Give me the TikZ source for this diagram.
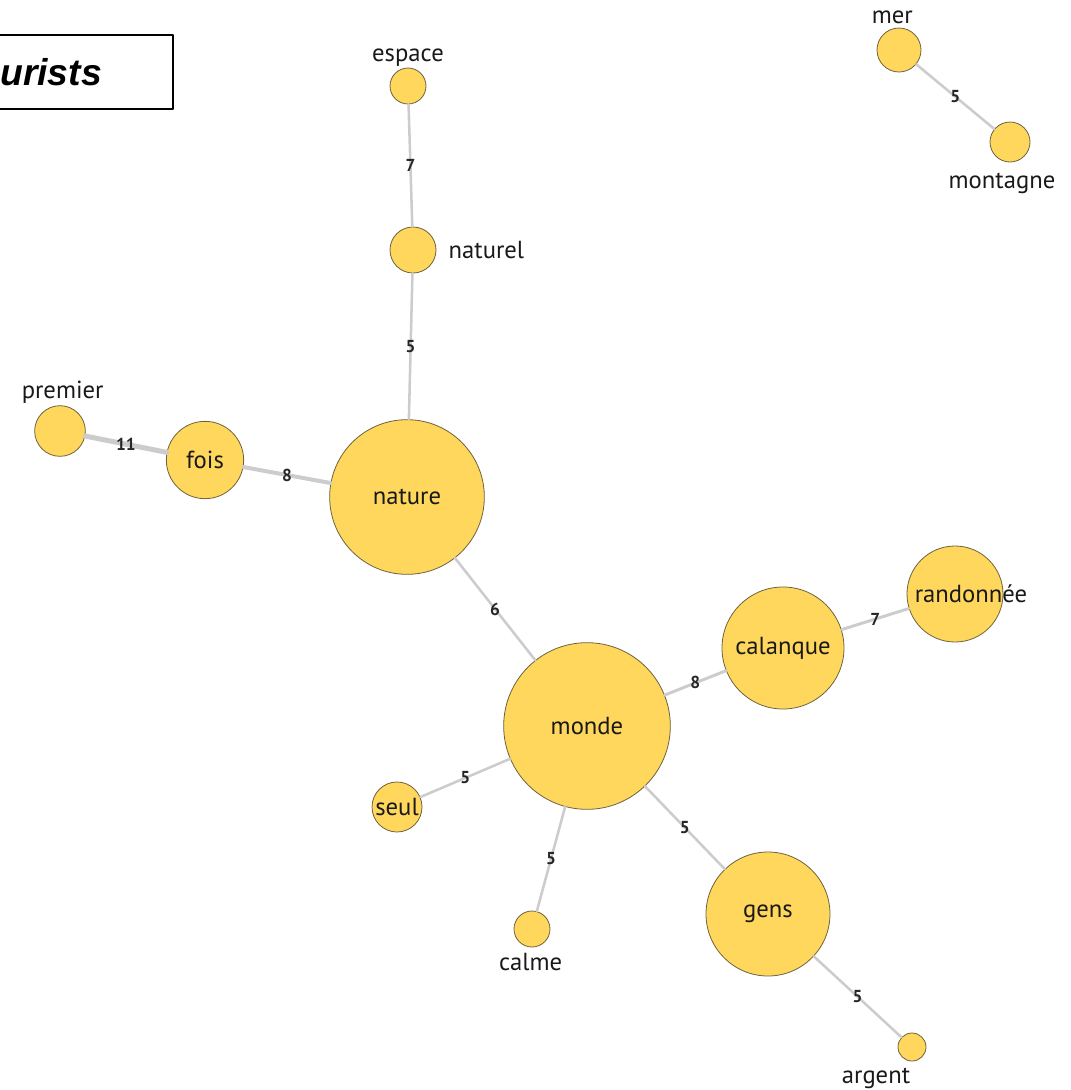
\documentclass[tikz,border=0pt]{standalone}
\usepackage{fontspec}
\setmainfont{PT Sans}
\newfontfamily\titlefont{Liberation Sans}
\definecolor{wordfill}{RGB}{255,215,92}
\definecolor{wordline}{RGB}{110,98,62}
\definecolor{linkgray}{RGB}{204,204,204}
\begin{document}
\begin{tikzpicture}[x=0.75pt,y=-0.75pt, line join=round,line cap=round]
	\tikzset{word/.style={circle,draw=wordline,fill=wordfill,line width=0.6pt,inner sep=0pt},
		every label/.style={font=\fontsize{18.5}{21}\selectfont,text=black!90,inner sep=1pt},
		link/.style={draw=linkgray,line width=1.9pt},
		weight/.style={font=\fontsize{13}{14}\selectfont\bfseries,text=black!85,inner sep=0pt}}
	\def \w{1071}
	\def \h{1090}
	\useasboundingbox (0,0) rectangle (\w,\h);
	\clip (0,0) rectangle (\w,\h);
	
	% title box, cut at the left edge
	\draw[line width=1.5pt] (-20,35) rectangle (173,109);
	\node[anchor=west,inner sep=0pt,font=\titlefont\bfseries\itshape\fontsize{28}{30}\selectfont] (title) at (0,72) {urists};
	
	% words: name/x/y/size/label side/shift/dist/text
	\foreach \n/\x/\y/\d/\p/\s/\ld/\l in {
		espace/408/86/27/above/0/0/espace,
		naturel/413/250/34.5/right/0/8/naturel,
		premier/60/431/38/above/2/0/premier,
		fois/205/460/58/center/0/0/fois,
		nature/407/497/116/center/0/0/nature,
		monde/587/726/125/center/0/0/monde,
		calanque/783/648/91.5/center/0/0/calanque,
		randonnee/955/594/72/center/12/0/randonnée,
		seul/397/807/37.5/center/0/0/seul,
		calme/532/929/27/below/-1/3/calme,
		gens/768/914/93/center/0/0/gens,
		argent/912/1047/21/below/-27/4/argent,
		mer/899/50/33/above/-5/2/mer,
		montagne/1010/142/30/below/-6/7/montagne}
	\node[word,minimum size=\d pt,label/.expanded={[xshift=\s pt,label distance=\ld pt]\p:\l}] (\n) at (\x,\y) {};
	
	% links
	\foreach \a/\b/\lw/\t in {
		espace/naturel/1.9/7, naturel/nature/1.9/5, premier/fois/3.8/11,
		fois/nature/3/8, nature/monde/1.9/6, monde/calanque/2.2/8,
		calanque/randonnee/2.2/7, monde/seul/1.9/5, monde/calme/1.9/5,
		monde/gens/1.9/5, gens/argent/1.9/5, mer/montagne/1.9/5}
	\draw[link,line width=\lw pt] (\a) -- node[weight]{\t} (\b);
\end{tikzpicture}
\end{document}
